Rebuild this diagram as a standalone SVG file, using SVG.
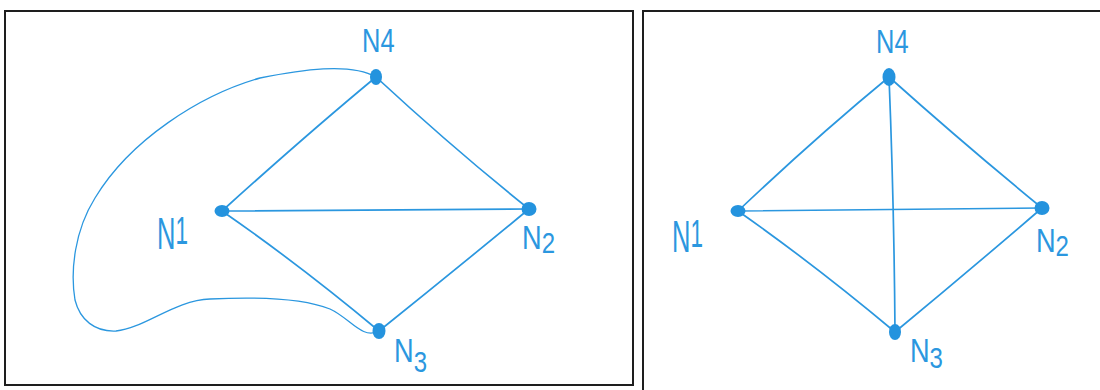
<svg xmlns="http://www.w3.org/2000/svg" width="1100" height="390" viewBox="0 0 1100 390">
<style>
.frame{fill:none;stroke:#1e1e1e;stroke-width:2}
.edge{fill:none;stroke:#2b97df;stroke-width:1.7;stroke-linecap:round;stroke-linejoin:round}
.thin{stroke-width:1.3}
.dot{fill:#2493de}
.lbl{font-family:"Liberation Sans",Arial,sans-serif;fill:#2b97df;font-size:34px}
.sub{font-size:30px}
</style>
<rect width="1100" height="390" fill="#fff"/>
<rect class="frame" x="5" y="11" width="628" height="374"/>
<rect class="frame" x="643" y="11" width="470" height="400"/>
<g id="connectors">
<path class="edge" d="M376 77 Q306 135 222 211"/>
<path class="edge" d="M376 77 Q455 150 529 209"/>
<path class="edge" d="M222 211 L529 209"/>
<path class="edge" d="M222 211 Q300 265 379 331"/>
<path class="edge" d="M379 331 Q455 270 529 209"/>
<path class="edge thin" d="M376 77 C350 62 300 70 260 78 C200 95 130 140 95 198 C75 230 70 270 75 300 C80 320 95 332 116 331 C145 328 175 300 210 299 C250 297 300 297 330 309 C350 318 362 340 379 331"/>
<path class="edge" d="M889 77 Q815 138 738 211"/>
<path class="edge" d="M889 77 Q965 145 1042 208"/>
<path class="edge" d="M738 211 L1042 208"/>
<path class="edge" d="M738 211 Q815 265 895 332"/>
<path class="edge" d="M895 332 Q970 270 1042 208"/>
<path class="edge" d="M889 77 Q894 200 895 332"/>
</g>
<g id="L-N4"><ellipse class="dot" cx="376" cy="77" rx="6" ry="8"/><text class="lbl" x="362" y="52" transform="translate(362 0) scale(0.75 1) translate(-362 0)">N4</text></g>
<g id="L-N1"><ellipse class="dot" cx="222" cy="211" rx="7.5" ry="6"/><text class="lbl" x="157" y="249" transform="translate(157 249) scale(0.75 1.3) translate(-157 -249)">N<tspan class="sub" dy="-4">1</tspan></text></g>
<g id="L-N2"><ellipse class="dot" cx="529" cy="209" rx="7.5" ry="7"/><text class="lbl" x="522" y="249" transform="translate(522 0) scale(0.8 1) translate(-522 0)">N<tspan class="sub" dy="4">2</tspan></text></g>
<g id="L-N3"><ellipse class="dot" cx="379" cy="331" rx="6.5" ry="8"/><text class="lbl" x="394" y="362" transform="translate(394 0) scale(0.8 1) translate(-394 0)">N<tspan class="sub" dy="10">3</tspan></text></g>
<g id="R-N4"><ellipse class="dot" cx="889" cy="77" rx="6.5" ry="9"/><text class="lbl" x="876" y="53" transform="translate(876 0) scale(0.75 1) translate(-876 0)">N4</text></g>
<g id="R-N1"><ellipse class="dot" cx="738" cy="211" rx="7.5" ry="6"/><text class="lbl" x="672" y="252" transform="translate(672 252) scale(0.75 1.3) translate(-672 -252)">N<tspan class="sub" dy="-4">1</tspan></text></g>
<g id="R-N2"><ellipse class="dot" cx="1042" cy="208" rx="7.5" ry="7"/><text class="lbl" x="1036" y="252" transform="translate(1036 0) scale(0.8 1) translate(-1036 0)">N<tspan class="sub" dy="4">2</tspan></text></g>
<g id="R-N3"><ellipse class="dot" cx="895" cy="332" rx="6" ry="8"/><text class="lbl" x="910" y="362" transform="translate(910 0) scale(0.8 1) translate(-910 0)">N<tspan class="sub" dy="6">3</tspan></text></g>
</svg>
